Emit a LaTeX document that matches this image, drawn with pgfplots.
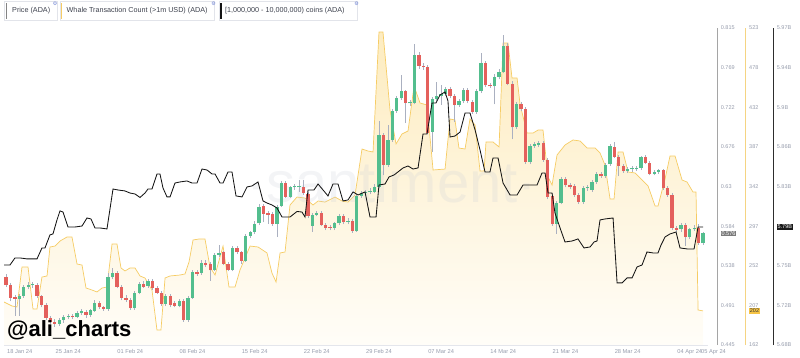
\documentclass[border=0pt]{standalone}
\usepackage{fontspec}
\setmainfont{Liberation Sans}
\newfontfamily\djv{DejaVu Sans}
\usepackage{pgfplots}
\pgfplotsset{compat=1.18}
\usepackage{pgfplotstable}

\definecolor{upc}{RGB}{83,190,142}
\definecolor{dnc}{RGB}{228,96,92}
\definecolor{wickc}{RGB}{170,176,192}
\definecolor{whalec}{RGB}{246,204,100}
\definecolor{areatop}{RGB}{253,236,192}
\definecolor{areabot}{RGB}{255,253,248}
\definecolor{tickc}{RGB}{150,156,172}
\definecolor{legtext}{RGB}{60,64,76}
\definecolor{legborder}{RGB}{226,228,234}
\definecolor{gearc}{RGB}{110,130,210}
\definecolor{pricebox}{RGB}{122,122,122}
\definecolor{whalebox}{RGB}{246,196,70}
\definecolor{holdc}{RGB}{20,20,20}
\definecolor{wmark}{RGB}{200,205,215}
\definecolor{bottomline}{RGB}{228,230,236}
\definecolor{priceaxis}{RGB}{165,165,165}
\definecolor{whaleaxis}{RGB}{245,212,130}
\definecolor{holdaxis}{RGB}{45,45,45}

% price candles, 12h: t (days since 18 Jan 24) open high low close
\pgfplotstableread{
t o h l c
0 0.524 0.528 0.513 0.515
0.5 0.515 0.517 0.496 0.500
1 0.501 0.503 0.479 0.499
1.5 0.499 0.505 0.479 0.502
2 0.502 0.515 0.500 0.513
2.5 0.513 0.518 0.510 0.515
3 0.515 0.519 0.512 0.516
3.5 0.515 0.517 0.500 0.502
4 0.502 0.503 0.489 0.492
4.5 0.492 0.494 0.474 0.477
5 0.477 0.479 0.469 0.472
5.5 0.472 0.475 0.466 0.470
6 0.470 0.476 0.467 0.474
6.5 0.474 0.480 0.471 0.478
7 0.478 0.481 0.475 0.479
7.5 0.479 0.481 0.475 0.478
8 0.478 0.485 0.476 0.482
8.5 0.482 0.487 0.480 0.485
9 0.484 0.486 0.477 0.480
9.5 0.480 0.487 0.478 0.486
10 0.485 0.498 0.484 0.494
10.5 0.494 0.496 0.487 0.489
11 0.489 0.491 0.485 0.487
11.5 0.487 0.529 0.485 0.524
12 0.524 0.535 0.522 0.529
12.5 0.529 0.531 0.511 0.513
13 0.513 0.515 0.497 0.500
13.5 0.500 0.503 0.495 0.498
14 0.498 0.500 0.486 0.488
14.5 0.488 0.508 0.486 0.506
15 0.506 0.519 0.504 0.516
15.5 0.516 0.520 0.512 0.513
16 0.514 0.522 0.512 0.520
16.5 0.520 0.522 0.509 0.511
17 0.511 0.514 0.505 0.506
17.5 0.506 0.508 0.491 0.493
18 0.493 0.505 0.491 0.502
18.5 0.502 0.505 0.489 0.492
19 0.494 0.496 0.489 0.491
19.5 0.491 0.499 0.489 0.496
20 0.496 0.499 0.472 0.474
20.5 0.474 0.502 0.472 0.500
21 0.500 0.533 0.499 0.530
21.5 0.530 0.533 0.526 0.528
22 0.529 0.544 0.527 0.541
22.5 0.541 0.544 0.536 0.538
23 0.540 0.542 0.520 0.532
23.5 0.532 0.552 0.531 0.550
24 0.550 0.562 0.548 0.552
24.5 0.553 0.555 0.538 0.540
25 0.540 0.542 0.531 0.533
25.5 0.533 0.561 0.531 0.558
26 0.558 0.561 0.551 0.553
26.5 0.553 0.555 0.540 0.543
27 0.543 0.574 0.542 0.572
27.5 0.572 0.578 0.570 0.577
28 0.577 0.590 0.575 0.586
28.5 0.587 0.610 0.585 0.606
29 0.607 0.610 0.588 0.598
29.5 0.599 0.601 0.586 0.597
30 0.598 0.600 0.584 0.586
30.5 0.586 0.608 0.571 0.606
31 0.607 0.636 0.606 0.634
31.5 0.634 0.636 0.617 0.618
32 0.618 0.631 0.617 0.629
32.5 0.629 0.633 0.626 0.630
33 0.629 0.638 0.624 0.631
33.5 0.629 0.638 0.620 0.622
34 0.621 0.624 0.593 0.596
34.5 0.584 0.599 0.577 0.597
35 0.597 0.601 0.595 0.599
35.5 0.599 0.601 0.584 0.585
36 0.585 0.587 0.579 0.582
36.5 0.583 0.585 0.579 0.582
37 0.582 0.589 0.579 0.587
37.5 0.587 0.598 0.585 0.596
38 0.596 0.598 0.586 0.589
38.5 0.589 0.593 0.586 0.590
39 0.590 0.592 0.576 0.578
39.5 0.578 0.621 0.577 0.619
40 0.619 0.625 0.617 0.622
40.5 0.622 0.626 0.619 0.623
41 0.624 0.628 0.621 0.625
41.5 0.624 0.633 0.622 0.630
42 0.630 0.706 0.628 0.690
42.5 0.690 0.692 0.643 0.655
43 0.655 0.702 0.653 0.684
43.5 0.684 0.721 0.682 0.718
44 0.718 0.736 0.716 0.733
44.5 0.733 0.760 0.731 0.741
45 0.741 0.743 0.704 0.727
45.5 0.727 0.731 0.724 0.729
46 0.728 0.796 0.726 0.784
46.5 0.784 0.787 0.767 0.771
47 0.771 0.774 0.766 0.769
47.5 0.769 0.772 0.691 0.693
48 0.694 0.734 0.670 0.732
48.5 0.732 0.752 0.730 0.736
49 0.736 0.748 0.725 0.738
49.5 0.738 0.746 0.736 0.744
50 0.744 0.746 0.733 0.736
50.5 0.736 0.738 0.705 0.725
51 0.725 0.732 0.723 0.730
51.5 0.730 0.745 0.727 0.743
52 0.743 0.745 0.727 0.730
52.5 0.729 0.731 0.715 0.717
53 0.717 0.744 0.715 0.741
53.5 0.741 0.786 0.739 0.774
54 0.774 0.776 0.746 0.748
54.5 0.748 0.751 0.745 0.747
55 0.747 0.761 0.726 0.758
55.5 0.758 0.767 0.755 0.764
56 0.764 0.807 0.762 0.794
56.5 0.794 0.797 0.748 0.750
57 0.750 0.753 0.685 0.699
57.5 0.699 0.729 0.697 0.726
58 0.726 0.729 0.718 0.720
58.5 0.720 0.723 0.656 0.659
59 0.659 0.680 0.656 0.677
59.5 0.677 0.682 0.675 0.680
60 0.679 0.683 0.676 0.681
60.5 0.681 0.683 0.659 0.661
61 0.661 0.663 0.615 0.618
61.5 0.619 0.621 0.584 0.586
62 0.586 0.613 0.575 0.611
62.5 0.611 0.641 0.609 0.639
63 0.639 0.641 0.629 0.632
63.5 0.632 0.634 0.627 0.629
64 0.631 0.633 0.618 0.620
64.5 0.620 0.622 0.610 0.612
65 0.612 0.631 0.610 0.628
65.5 0.628 0.632 0.625 0.629
66 0.626 0.638 0.624 0.635
66.5 0.635 0.647 0.633 0.645
67 0.645 0.647 0.640 0.642
67.5 0.642 0.657 0.640 0.655
68 0.656 0.680 0.654 0.677
68.5 0.676 0.682 0.663 0.665
69 0.664 0.667 0.642 0.654
69.5 0.654 0.656 0.646 0.648
70 0.648 0.653 0.646 0.650
70.5 0.650 0.654 0.647 0.651
71 0.650 0.654 0.648 0.652
71.5 0.652 0.666 0.649 0.664
72 0.664 0.667 0.656 0.658
72.5 0.658 0.660 0.643 0.645
73 0.645 0.649 0.643 0.647
73.5 0.647 0.651 0.645 0.649
74 0.649 0.651 0.626 0.628
74.5 0.628 0.631 0.618 0.620
75 0.620 0.622 0.579 0.581
75.5 0.582 0.584 0.577 0.579
76 0.580 0.587 0.577 0.585
76.5 0.585 0.587 0.561 0.571
77 0.571 0.582 0.569 0.580
77.5 0.580 0.585 0.578 0.582
78 0.582 0.586 0.562 0.564
78.5 0.564 0.577 0.562 0.5755
}\candles

% whale transaction count (>1m USD)
\pgfplotstableread{
t w
-0.23 211.0
0.68 206.4
1.24 205.3
1.80 250.8
2.48 250.8
3.04 203.0
3.49 203.0
4.05 239.4
4.62 240.6
4.95 273.6
5.52 274.7
6.08 280.4
6.87 285.0
7.43 285.0
8.00 254.2
8.56 253.1
9.01 226.9
9.68 224.6
10.25 222.4
10.81 226.9
11.37 228.0
11.94 277.0
12.50 277.0
12.95 249.7
13.40 246.3
13.96 249.7
14.53 249.7
15.09 240.6
15.65 238.3
16.44 224.6
17.00 179.1
17.45 179.1
17.91 238.3
18.47 240.6
19.59 241.7
20.16 242.9
20.61 256.5
21.06 281.6
21.73 282.7
22.41 282.7
22.97 250.8
23.54 241.7
24.44 274.7
25.11 228.0
25.79 228.0
26.35 247.4
27.48 274.7
28.38 273.6
29.39 266.8
29.95 244.0
30.41 233.7
30.86 266.8
31.42 267.9
31.98 321.4
32.77 330.5
33.67 329.4
34.57 321.4
35.14 326.0
35.92 324.8
37.05 330.5
37.84 326.0
38.51 324.8
39.30 332.8
40.09 385.2
40.77 382.9
41.33 381.8
42.00 518.4
42.45 518.4
43.24 429.6
43.92 390.9
44.59 402.3
45.27 405.7
45.95 456.9
46.62 437.6
47.41 435.3
48.09 361.3
49.44 362.4
50.00 419.4
50.56 418.2
51.01 386.3
51.69 385.2
52.25 419.4
52.82 412.5
53.38 360.1
53.83 360.1
54.05 393.2
54.84 393.2
55.52 387.5
55.97 505.9
56.53 505.9
56.98 466.1
57.55 466.1
57.88 436.5
58.67 403.4
59.35 403.4
59.91 406.8
60.47 406.8
61.04 353.3
61.49 344.2
62.05 378.4
62.95 389.8
63.85 395.5
64.64 394.3
65.43 386.3
66.33 386.3
66.89 380.7
67.45 367.0
68.02 328.3
68.47 328.3
68.92 381.8
69.48 381.8
70.05 359.0
70.83 357.9
71.62 349.9
72.30 343.1
73.09 320.3
73.42 320.3
74.21 351.0
74.77 377.2
75.34 377.2
76.13 349.9
76.69 347.6
77.36 336.2
77.70 336.2
77.93 201.9
78.49 200.8
}\whale

% holdings of [1,000,000 - 10,000,000) coins, billions ADA
\pgfplotstableread{
t h
-0.23 5.7537
0.45 5.7537
1.01 5.7602
1.58 5.7602
2.36 5.7593
3.04 5.7593
3.49 5.7593
4.05 5.7694
4.39 5.7694
4.95 5.7814
5.29 5.7823
5.74 5.7952
6.08 5.8035
6.42 5.8025
6.98 5.7887
7.77 5.7887
8.56 5.7896
9.12 5.7970
9.57 5.7961
10.02 5.7878
10.59 5.7878
11.37 5.7869
12.05 5.8237
12.61 5.8228
13.40 5.8219
13.96 5.8200
14.53 5.8191
15.09 5.8159
15.65 5.8200
15.99 5.8237
16.44 5.8237
17.00 5.8375
17.34 5.8375
17.68 5.8246
18.13 5.8164
18.47 5.8164
19.03 5.8292
19.59 5.8302
20.38 5.8311
20.95 5.8292
21.51 5.8292
22.07 5.8421
22.64 5.8412
23.20 5.8375
23.54 5.8375
24.10 5.8292
24.44 5.8292
25.00 5.8394
25.45 5.8394
25.90 5.8173
26.58 5.8164
27.14 5.8256
27.70 5.8265
28.38 5.8302
28.94 5.8127
29.39 5.8108
29.95 5.8090
30.52 5.8062
31.08 5.7979
31.98 5.7979
32.77 5.8030
33.33 5.8025
33.67 5.7979
34.01 5.8228
34.68 5.8228
35.14 5.8283
35.70 5.8228
36.26 5.8173
36.82 5.8283
37.39 5.8283
37.95 5.8127
38.51 5.8136
39.08 5.8210
39.64 5.8182
40.43 5.8210
40.99 5.7979
41.67 5.7979
42.00 5.8274
42.68 5.8283
43.13 5.8348
43.69 5.8366
44.14 5.8394
44.71 5.8431
45.27 5.8449
45.83 5.8421
46.40 5.8431
46.96 5.8744
47.41 5.8744
47.97 5.9029
48.42 5.9029
48.87 5.9103
49.44 5.9131
49.77 5.9048
50.00 5.8716
50.56 5.8725
51.13 5.8762
51.69 5.8937
52.25 5.8937
52.82 5.8781
53.38 5.8596
53.94 5.8394
54.50 5.8394
54.84 5.8523
55.41 5.8523
55.97 5.8292
56.76 5.8182
57.55 5.8182
58.22 5.8274
59.80 5.8274
60.36 5.8385
60.70 5.8385
61.04 5.8200
61.49 5.8200
61.82 5.8016
62.39 5.7878
62.95 5.7749
63.74 5.7758
64.41 5.7777
65.09 5.7694
65.77 5.7703
66.22 5.7749
66.55 5.7758
66.89 5.7952
67.45 5.7961
68.36 5.7970
68.81 5.7372
69.37 5.7372
69.93 5.7418
70.50 5.7418
71.06 5.7519
71.62 5.7537
72.18 5.7657
72.86 5.7648
73.42 5.7648
73.76 5.7721
74.21 5.7795
74.77 5.7823
75.45 5.7841
75.90 5.7694
76.69 5.7685
77.48 5.7685
77.93 5.7887
78.49 5.7887
}\hold

\pgfplotsset{chartbase/.style={
  scale only axis, width=704pt, height=317pt,
  at={(4pt,12pt)}, anchor=south west,
  xmin=-0.225, xmax=79.05,
  major tick length=0pt,
  /pgf/number format/assume math mode=true,
  tick label style={text=tickc},
  yticklabel style={font=\fontsize{5.5}{6}\selectfont, anchor=west, inner sep=0pt},
  xticklabel style={font=\fontsize{5.7}{6}\selectfont, inner sep=0pt, yshift=-4pt},
  axis y line*=right,
}}

\begin{document}
\begin{tikzpicture}[x=1pt,y=1pt]
\useasboundingbox (0,0) rectangle (800,357);

% ---------- whale transaction count (area + line) ----------
\begin{axis}[chartbase,
  ymin=162, ymax=523,
  ytick={162,207.125,252.25,297.375,342.5,387.625,432.75,477.875,523},
  yticklabels={162,207,252,297,342,387,432,478,523},
  yticklabel style={xshift=41pt},
  y axis line style={xshift=37.7pt, draw=whaleaxis, line width=0.8pt, -},
  axis x line*=bottom, x axis line style={draw=none},
  xtick={78.9}, xticklabels={05 Apr 24},
  xticklabel style={anchor=north west, xshift=-5.7pt},
  extra y ticks={200.8}, extra y tick labels={202},
  extra y tick style={yticklabel style={fill=whalebox, text=black!80, inner sep=0.7pt}},
]
\addplot[draw=none, top color=areatop, bottom color=areabot] table[x=t, y=w] {\whale}
  -- (axis cs:78.49,162) -- (axis cs:-0.23,162) -- cycle;
\addplot[draw=whalec, line width=0.7pt] table[x=t, y=w] {\whale};
\end{axis}

% watermark
\node[anchor=base, font=\fontsize{58}{58}\selectfont, text=wmark, text opacity=0.22, inner sep=0] at (392,155) {·santiment·};

% ---------- price candles ----------
\begin{axis}[chartbase,
  ymin=0.445, ymax=0.815,
  ytick={0.445,0.49125,0.5375,0.58375,0.63,0.67625,0.7225,0.76875,0.815},
  yticklabels={0.445,0.491,0.538,0.584,0.63,0.676,0.722,0.769,0.815},
  yticklabel style={xshift=12.7pt},
  y axis line style={xshift=9.3pt, draw=priceaxis, line width=0.8pt, -},
  axis x line*=bottom, x axis line style={draw=bottomline, line width=0.6pt, -},
  xtick={7,14,...,77},
  xticklabels={25 Jan 24,01 Feb 24,08 Feb 24,15 Feb 24,22 Feb 24,29 Feb 24,07 Mar 24,14 Mar 24,21 Mar 24,28 Mar 24,04 Apr 24},
  extra x ticks={0}, extra x tick labels={18 Jan 24},
  extra x tick style={xticklabel style={anchor=north west, xshift=1pt}},
  extra y ticks={0.5755}, extra y tick labels={0.576},
  extra y tick style={yticklabel style={fill=pricebox, text=white, inner sep=0.7pt}},
]
% wicks
\addplot[draw=none, error bars/.cd, y dir=plus, y explicit, error mark=none,
  error bar style={draw=wickc, line width=0.7pt}]
  table[x=t, y=l, y error expr={\thisrow{h}-\thisrow{l}}] {\candles};
% rising bodies
\addplot[draw=none, restrict y to domain=0:2, error bars/.cd, y dir=plus, y explicit, error mark=none,
  error bar style={draw=upc, line width=3.3pt}]
  table[x=t, y expr={\thisrow{c}>=\thisrow{o} ? \thisrow{o} : -1},
        y error expr={max(\thisrow{c}-\thisrow{o},0.0012)}] {\candles};
% falling bodies
\addplot[draw=none, restrict y to domain=0:2, error bars/.cd, y dir=plus, y explicit, error mark=none,
  error bar style={draw=dnc, line width=3.3pt}]
  table[x=t, y expr={\thisrow{c}<\thisrow{o} ? \thisrow{c} : -1},
        y error expr={max(\thisrow{o}-\thisrow{c},0.0012)}] {\candles};
\end{axis}

% ---------- holdings line ----------
\begin{axis}[chartbase,
  ymin=5.68, ymax=5.972,
  ytick={5.68,5.7165,5.753,5.7895,5.826,5.8625,5.899,5.9355,5.972},
  yticklabels={5.68B,5.72B,5.75B,5.79B,5.83B,5.86B,5.9B,5.94B,5.97B},
  yticklabel style={xshift=68.7pt},
  y axis line style={xshift=65.3pt, draw=holdaxis, line width=0.9pt, -},
  axis x line=none,
  extra y ticks={5.7887}, extra y tick labels={5.79B},
  extra y tick style={yticklabel style={fill=black!90, text=white, inner sep=0.7pt}},
]
\addplot[draw=holdc, line width=0.85pt] table[x=t, y=h] {\hold};
\end{axis}

% ---------- legend ----------
\begin{scope}[font=\fontsize{7.2}{8}\selectfont]
\draw[legborder, line width=0.5pt] (4.5,336.3) rectangle (57,355.3);
\fill[priceaxis!80!black] (5.6,337.5) rectangle (7.1,354);
\node[anchor=west, inner sep=0, text=legtext] at (12,346) {Price (ADA)};
\draw[legborder, line width=0.5pt] (60,336.3) rectangle (214,355.3);
\fill[whalec] (60.8,337.5) rectangle (62.3,354);
\node[anchor=west, inner sep=0, text=legtext] at (66.5,346) {Whale Transaction Count (>1m USD) (ADA)};
\draw[legborder, line width=0.5pt] (219.5,336.3) rectangle (357,355.3);
\fill[holdc] (220.3,337.5) rectangle (221.8,354);
\node[anchor=west, inner sep=0, text=legtext] at (225,346) {[1,000,000 - 10,000,000) coins (ADA)};
\node[inner sep=0, text=gearc, font=\djv\fontsize{5}{5}\selectfont] at (55,353) {⚙};
\node[inner sep=0, text=gearc, font=\djv\fontsize{5}{5}\selectfont] at (213.5,353) {⚙};
\node[inner sep=0, text=gearc, font=\djv\fontsize{5}{5}\selectfont] at (356.5,353) {⚙};
\end{scope}

% author tag
\node[anchor=base west, inner sep=0, font=\bfseries\fontsize{22}{22}\selectfont] at (7,20.5) {@ali\_charts};
\end{tikzpicture}
\end{document}
